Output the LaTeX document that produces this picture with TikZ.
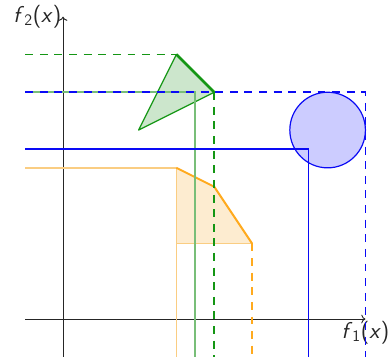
\documentclass[tikz,border=0pt]{standalone}
\usetikzlibrary{arrows.meta}
\definecolor{dgreen}{RGB}{20,150,20}
\definecolor{lgreen}{RGB}{120,190,120}
\definecolor{myblue}{RGB}{10,10,245}
\definecolor{myorange}{RGB}{255,170,30}
\definecolor{lorange}{RGB}{250,205,130}
\definecolor{lofill}{RGB}{253,236,208}
\definecolor{gfill}{RGB}{204,230,204}
\definecolor{bfill}{RGB}{204,204,255}
\tikzset{
  axis/.style={->, black!85, line width=0.7pt},
  lbl/.style={font=\sffamily\LARGE, inner sep=1pt},
  mydash/.style={dash pattern=on 6pt off 5pt, line width=1.4pt},
  gdash/.style={dgreen, mydash},
  gsolid/.style={lgreen, line width=1.5pt},
  bdash/.style={myblue, mydash},
  bsolid/.style={myblue, line width=0.9pt},
  osolid/.style={lorange, line width=1.2pt},
  odash/.style={myorange, mydash},
}
\begin{document}
\begin{tikzpicture}
\useasboundingbox (-1.667,-1) rectangle (8.65,8.44);
% axes
\coordinate (xs) at (-1,0);
\coordinate (xe) at (8,0);
\coordinate (ys) at (0,-1);
\coordinate (ye) at (0,8);
\draw[axis] (xs) -- (xe) node[lbl, below] (fx) {\textsl{f}$_{\mathsf{1}}$(\textsl{x})};
\draw[axis] (ys) -- (ye) node[lbl, left] (fy) {\textsl{f}$_{\mathsf{2}}$(\textsl{x})};

% orange
\coordinate (o1) at (3,4);
\coordinate (o2) at (4,3.5);
\coordinate (o3) at (5,2);
\coordinate (o4) at (3,2);
\coordinate (oL) at (-1,4);
\coordinate (oB1) at (3,-1);
\coordinate (oB2) at (5,-1);
\fill[lofill] (o1) -- (o2) -- (o3) -- (o4) -- cycle;
\draw[osolid] (oL) -- (o1) -- (o4) -- (o3);
\draw[osolid] (o4) -- (oB1);
\draw[myorange, line width=1.5pt, line join=round] (o1) -- (o2) -- (o3);
\draw[odash] (o3) -- (oB2);

% green
\coordinate (g1) at (3,7);
\coordinate (g2) at (4,6);
\coordinate (g3) at (2,5);
\coordinate (gs) at (3.5,6);
\coordinate (gL1) at (-1,7);
\coordinate (gL2) at (-1,6);
\coordinate (gB1) at (3.5,-1);
\coordinate (gB2) at (4,-1);
\draw[draw=dgreen, fill=gfill, line width=0.9pt, line join=round] (g1) -- (g2) -- (g3) -- cycle;
\draw[gsolid] (gL2) -- (gs) -- (gB1);
\draw[gdash] (gL1) -- (g1);
\draw[dgreen, line width=2pt] (g1) -- (g2);
\draw[gdash] (g2) -- (gB2);

% blue
\node[circle, draw=myblue, fill=bfill, line width=0.9pt, minimum size=2cm, inner sep=0pt] (c) at (7,5) {};
\coordinate (bs) at (6.5,4.5);
\coordinate (bd) at (8,6);
\coordinate (bL1) at (-1,4.5);
\coordinate (bL2) at (-1,6);
\coordinate (bB1) at (6.5,-1);
\coordinate (bB2) at (8,-1);
\draw[bsolid] (bL1) -- (bs) -- (bB1);
\draw[bdash] (bL2) -- (bd) -- (bB2);
\end{tikzpicture}
\end{document}
